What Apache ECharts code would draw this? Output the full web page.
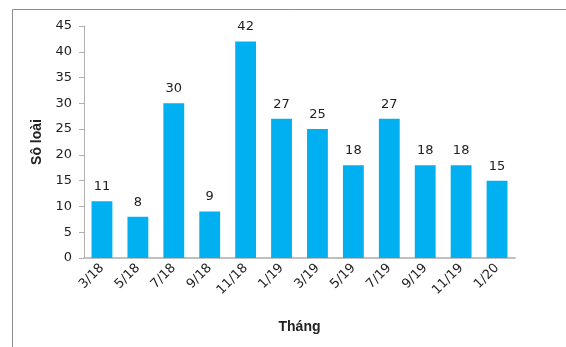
<!DOCTYPE html>
<html>
<head>
<meta charset="utf-8">
<script src="https://cdn.jsdelivr.net/npm/echarts@6/dist/echarts.min.js"></script>
<style>
  html, body { margin: 0; padding: 0; background: #fff; }
  #chart { width: 566px; height: 347px; }
</style>
</head>
<body>
<div id="chart"></div>
<script>
// data
var months = ['3/18', '5/18', '7/18', '9/18', '11/18', '1/19', '3/19', '5/19', '7/19', '9/19', '11/19', '1/20'];
var speciesCount = [11, 8, 30, 9, 42, 27, 25, 18, 27, 18, 18, 15];
var yTicks = { min: 0, max: 45, step: 5 };

var dom = document.getElementById("chart");
var myChart = echarts.init(dom);
var option = {
    animation: false,
    textStyle: { fontFamily: 'DejaVu Sans' },
    graphic: [
        {
            type: 'rect',
            shape: { x: 12.5, y: 9.5, width: 700, height: 400 },
            style: { fill: 'none', stroke: '#8c8c8c', lineWidth: 1 },
            silent: true
        }
    ],
    grid: { left: 84, right: 51, top: 26, bottom: 89 },
    xAxis: {
        type: 'category',
        data: months,
        name: 'Tháng',
        nameLocation: 'middle',
        nameGap: 62,
        nameTextStyle: { fontFamily: 'Liberation Sans', fontWeight: 'bold', fontSize: 14, color: '#222' },
        axisLine: { lineStyle: { color: '#c0c0c0', width: 2 } },
        axisTick: { show: false },
        axisLabel: { rotate: 45, fontSize: 13, color: '#222', margin: 8 }
    },
    yAxis: {
        type: 'value',
        min: yTicks.min,
        max: yTicks.max,
        interval: yTicks.step,
        name: 'Sô loài',
        nameLocation: 'middle',
        nameGap: 40,
        nameTextStyle: { fontFamily: 'Liberation Sans', fontWeight: 'bold', fontSize: 14, color: '#222' },
        axisLine: { show: true, lineStyle: { color: '#b0b0b0' } },
        axisTick: { show: true, length: 5, lineStyle: { color: '#b0b0b0' } },
        axisLabel: { fontSize: 13, color: '#222', margin: 12 },
        splitLine: { show: false }
    },
    series: [
        {
            type: 'bar',
            data: speciesCount,
            barWidth: '58%',
            itemStyle: { color: '#00b0f0' },
            label: { show: true, position: 'top', fontSize: 13, color: '#222', distance: 8 }
        }
    ]
};
myChart.setOption(option, true);
</script>
</body>
</html>
